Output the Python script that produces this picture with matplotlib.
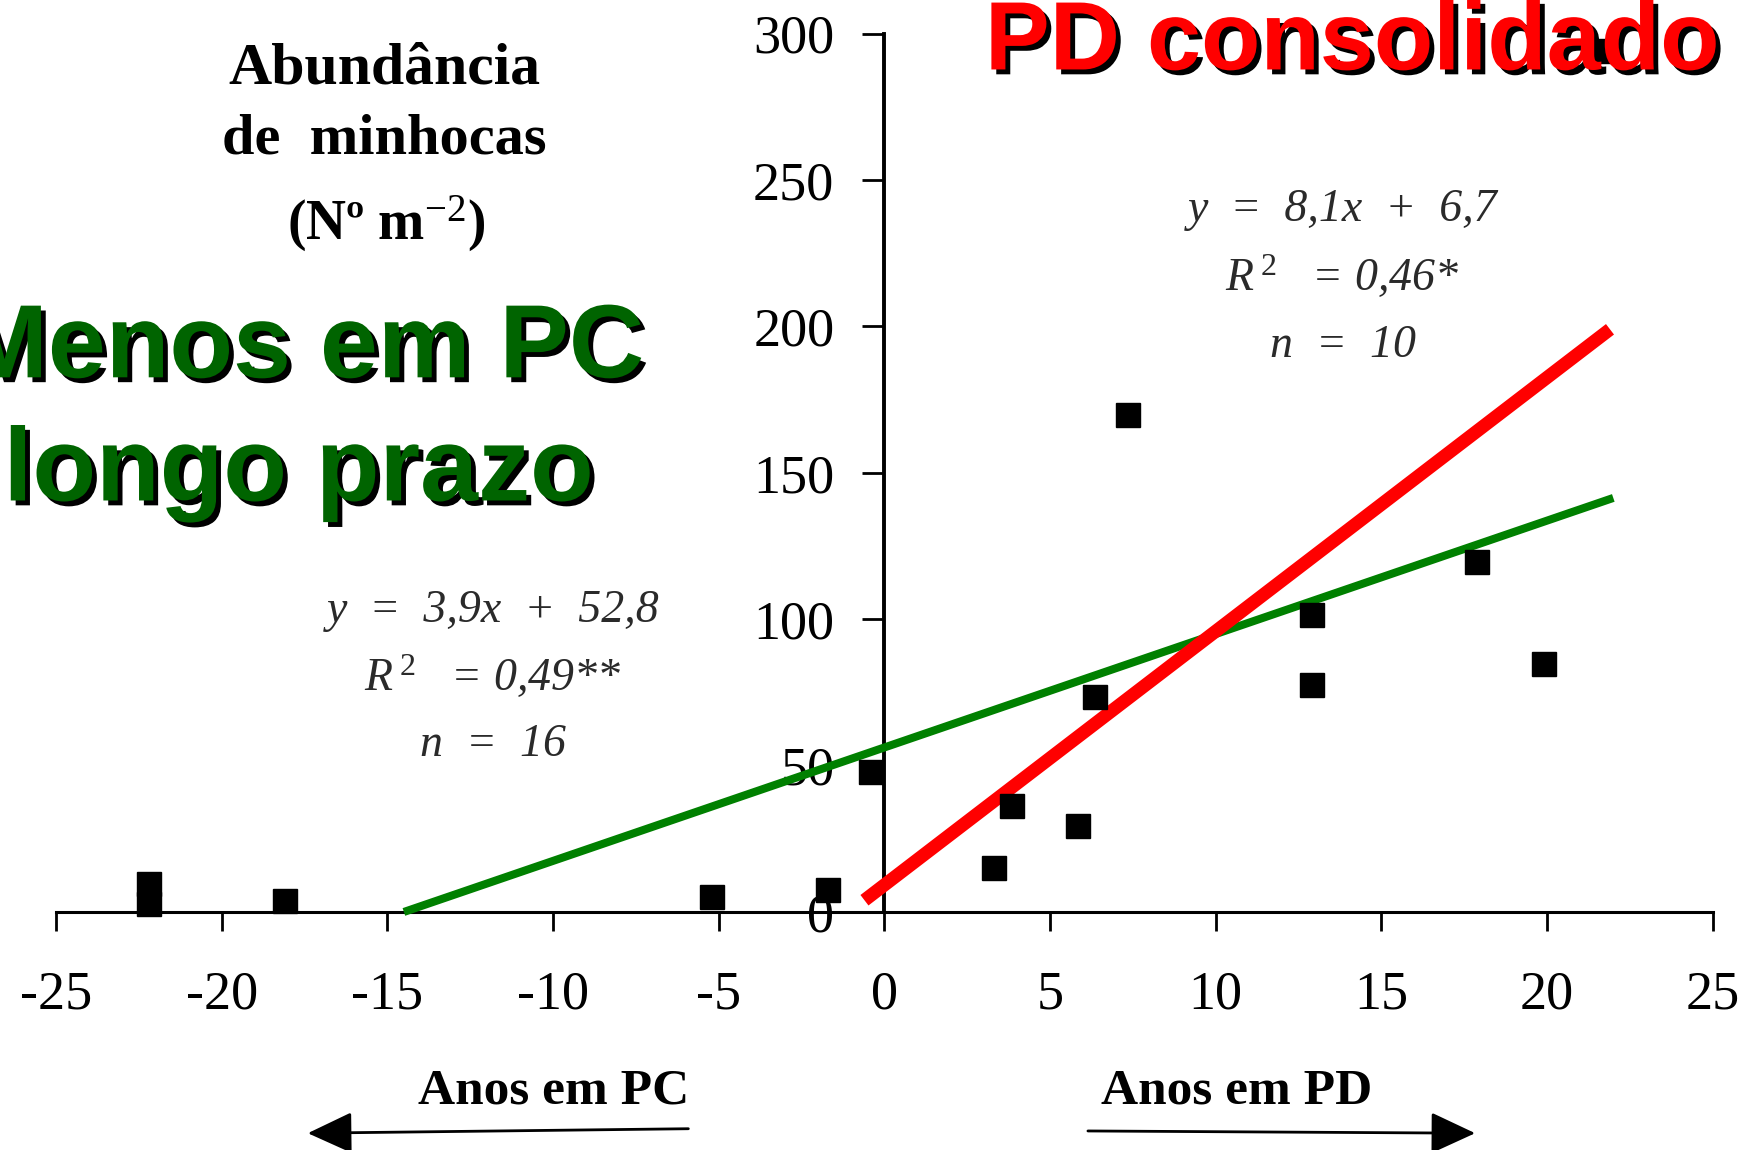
import matplotlib
matplotlib.use('Agg')
import matplotlib.pyplot as plt
import matplotlib.patheffects as pe

plt.rcParams['mathtext.fontset'] = 'custom'
plt.rcParams['mathtext.rm'] = 'Liberation Serif'
plt.rcParams['mathtext.it'] = 'Liberation Serif:italic'
plt.rcParams['mathtext.bf'] = 'Liberation Serif:bold'

# data: years under PC (negative) and PD (positive)
anos = [-22.2, -22.2, -18.1, -5.2, -1.7, -0.4,
        3.3, 3.85, 5.85, 6.35, 7.35, 12.9, 12.9, 17.9, 19.9, 21.9]
minhocas = [9.6, 2.7, 3.8, 5.0, 7.6, 47.8,
            14.9, 36.3, 29.4, 73.4, 169.7, 101.3, 77.6, 119.6, 84.8, 294]

# trend lines (end points as drawn)
verde_x = [-14.5, 22.0]
verde_y = [0.0, 141.4]
vermelho_x = [-0.6, 21.9]
vermelho_y = [4.0, 199.0]

xticks = [-25, -20, -15, -10, -5, 0, 5, 10, 15, 20, 25]
yticks = [0, 50, 100, 150, 200, 250, 300]

eq_pc = ['y  =  3,9x  +  52,8', '$R^{\\,2}$   = 0,49**', 'n  =  16']
eq_pd = ['y  =  8,1x  +  6,7', '$R^{\\,2}$   = 0,46*', 'n  =  10']

fig = plt.figure(figsize=(17.55, 11.5), dpi=100)
ax = fig.add_axes([0.0319, 0.2070, 0.944, 0.7638])

ax.plot(verde_x, verde_y, color='#008000', lw=5.8, solid_capstyle='butt', zorder=3, clip_on=False)
ax.plot(vermelho_x, vermelho_y, color='#ff0000', lw=9.5, solid_capstyle='butt', zorder=4, clip_on=False)
ax.plot(anos, minhocas, 's', color='black', ms=17, zorder=5, clip_on=False)

ax.set_xlim(-25, 25)
ax.set_ylim(0, 300)
ax.spines['left'].set_position(('data', 0))
ax.spines['top'].set_visible(False)
ax.spines['right'].set_visible(False)
ax.spines['left'].set_linewidth(2.8)
ax.spines['bottom'].set_linewidth(2.2)
ax.set_xticks(xticks)
ax.set_yticks(yticks)
ax.set_xticklabels([str(v) for v in xticks])
ax.set_yticklabels([str(v) for v in yticks])
ax.tick_params(axis='x', length=14, width=2, pad=28, labelsize=39)
ax.tick_params(axis='y', length=16, width=2, pad=20, labelsize=39)
for lab in ax.get_xticklabels() + ax.get_yticklabels():
    lab.set_fontfamily('Liberation Serif')
ax.patch.set_alpha(0)

serif = 'Liberation Serif'
fig.text(0.2188, 0.9396, 'Abundância', family=serif, weight='bold', size=43, ha='center', va='center')
fig.text(0.2188, 0.8783, 'de  minhocas', family=serif, weight='bold', size=42, ha='center', va='center')
fig.text(0.2200, 0.8053, '(Nº m$^{-2}$)', family=serif, weight='bold', size=40, ha='center', va='center')

for i, s in enumerate(eq_pd):
    fig.text(0.765, 1 - (187 + i * 61) / 1027, s, family=serif, style='italic', size=33,
             color='#2a2a2a', ha='center', va='center')
for i, s in enumerate(eq_pc):
    fig.text(0.281, 1 - (545 + i * 60) / 1027, s, family=serif, style='italic', size=33,
             color='#2a2a2a', ha='center', va='center')

sombra = [pe.withSimplePatchShadow(offset=(3.5, -3.5), shadow_rgbFace='black', alpha=1)]
fig.text(0.367, 0.6719, 'Menos em PC', family='Liberation Sans', weight='bold', size=75,
         color='#006400', ha='right', va='baseline', path_effects=sombra)
fig.text(0.002, 0.5648, 'longo prazo', family='Liberation Sans', weight='bold', size=75,
         color='#006400', ha='left', va='baseline', path_effects=sombra)
fig.text(0.5612, 0.9396, 'PD consolidado', family='Liberation Sans', weight='bold', size=70,
         color='#ff0000', ha='left', va='baseline', path_effects=sombra)

fig.text(0.3157, 1 - 975 / 1027, 'Anos em PC', family=serif, weight='bold', size=37, ha='center', va='center')
fig.text(0.7047, 1 - 975 / 1027, 'Anos em PD', family=serif, weight='bold', size=37, ha='center', va='center')

seta = dict(arrowstyle='-|>,head_length=1.4,head_width=0.65', mutation_scale=20, lw=2, color='black',
            shrinkA=0, shrinkB=0)
ax.annotate('', xy=(275 / 1568, 1 - 1012 / 1027), xytext=(615 / 1568, 1 - 1008 / 1027),
            xycoords='figure fraction', textcoords='figure fraction', arrowprops=seta)
ax.annotate('', xy=(1318 / 1568, 1 - 1012 / 1027), xytext=(972 / 1568, 1 - 1010 / 1027),
            xycoords='figure fraction', textcoords='figure fraction', arrowprops=seta)

fig.savefig('out.png', dpi=100)
